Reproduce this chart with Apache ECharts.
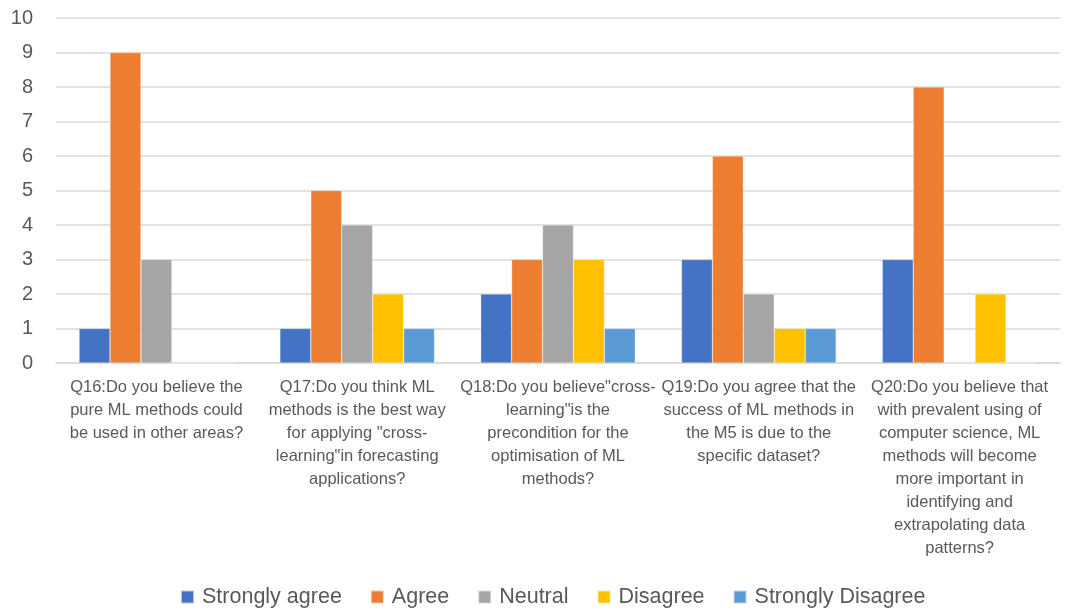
<!DOCTYPE html>
<html>
<head>
<meta charset="utf-8">
<script src="https://cdn.jsdelivr.net/npm/echarts@6/dist/echarts.min.js"></script>
<style>html,body{margin:0;padding:0;background:#fff;}#c{width:1068px;height:611px;}</style>
</head>
<body>
<div id="c"></div>
<script>
const categories = [
  'Q16:Do you believe the\npure ML methods could\nbe used in other areas?',
  'Q17:Do you think ML\nmethods is the best way\nfor applying "cross-\nlearning"in forecasting\napplications?',
  'Q18:Do you believe"cross-\nlearning"is the\nprecondition for the\noptimisation of ML\nmethods?',
  'Q19:Do you agree that the\nsuccess of ML methods in\nthe M5 is due to the\nspecific dataset?',
  'Q20:Do you believe that\nwith prevalent using of\ncomputer science, ML\nmethods will become\nmore important in\nidentifying and\nextrapolating data\npatterns?'
];
const seriesNames = ['Strongly agree', 'Agree', 'Neutral', 'Disagree', 'Strongly Disagree'];
const stronglyAgree = [1, 1, 2, 3, 3];
const agree = [9, 5, 3, 6, 8];
const neutral = [3, 4, 4, 2, 0];
const disagree = [0, 2, 3, 1, 2];
const stronglyDisagree = [0, 1, 1, 1, 0];
const colors = ['#4472C4', '#ED7D31', '#A5A5A5', '#FFC000', '#5B9BD5'];

const values = [stronglyAgree, agree, neutral, disagree, stronglyDisagree];
const chart = echarts.init(document.getElementById('c'));
const font = '"Liberation Sans", Arial, sans-serif';
chart.setOption({
  animation: false,
  color: colors,
  textStyle: { fontFamily: font },
  grid: { left: 56, right: 8, top: 18, bottom: 248, containLabel: false },
  legend: {
    top: 581,
    left: 175,
    itemWidth: 13,
    itemHeight: 13,
    itemGap: 28,
    icon: 'rect',
    textStyle: { fontSize: 21.5, color: '#595959', fontFamily: font, padding: [0, 0, 0, 3] },
    data: seriesNames
  },
  xAxis: {
    type: 'category',
    data: categories,
    axisLine: { lineStyle: { color: '#D9D9D9', width: 1.5 } },
    axisTick: { show: false },
    axisLabel: { interval: 0, fontSize: 16.5, lineHeight: 23, color: '#595959', margin: 13, fontFamily: font }
  },
  yAxis: {
    type: 'value',
    min: 0, max: 10, interval: 1,
    axisLine: { show: false },
    axisTick: { show: false },
    axisLabel: { fontSize: 20, color: '#595959', margin: 23, fontFamily: font },
    splitLine: { lineStyle: { color: '#D9D9D9', width: 1.5 } }
  },
  series: seriesNames.map((n, i) => ({
    name: n,
    type: 'bar',
    data: values[i],
    barGap: '0%',
    barCategoryGap: '23%',
    itemStyle: { borderColor: 'rgba(255,255,255,0.6)', borderWidth: 0.5 }
  }))
});
</script>
</body>
</html>
